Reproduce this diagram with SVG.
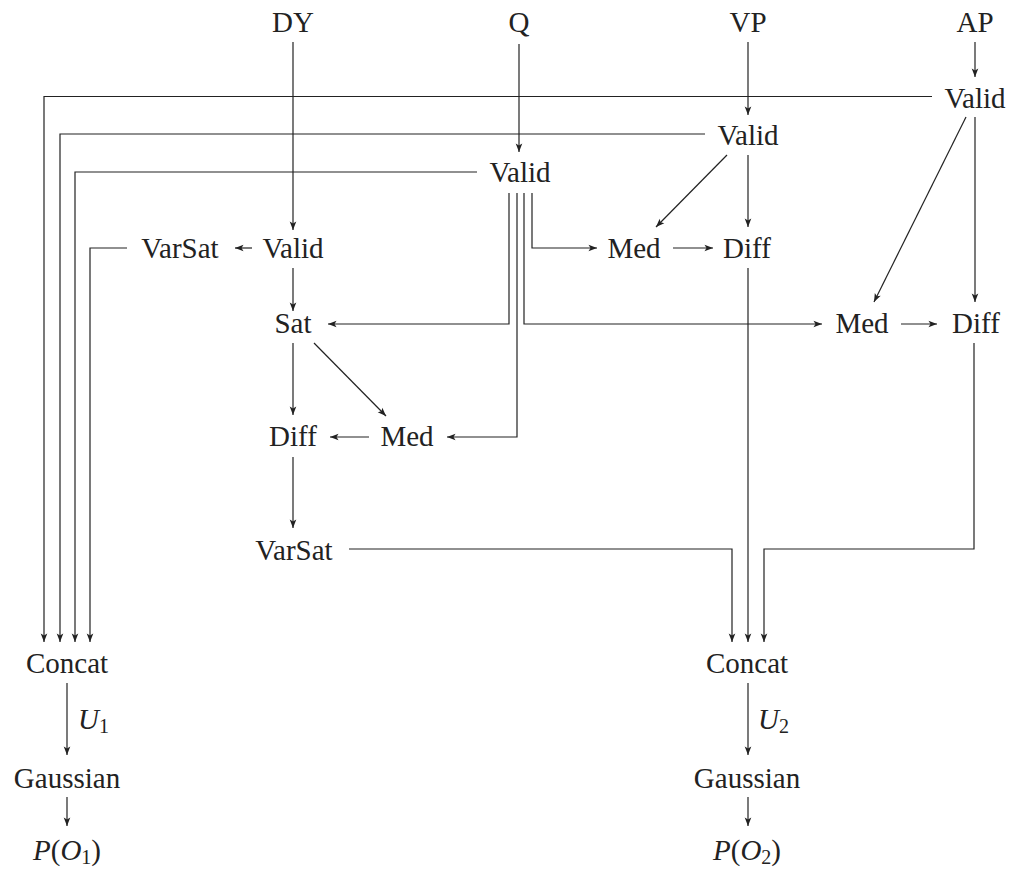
<svg xmlns="http://www.w3.org/2000/svg" width="1009" height="869" viewBox="0 0 1009 869">
<defs>
<marker id="ah" viewBox="-9 -4 10 8" refX="0" refY="0" markerWidth="10" markerHeight="8" markerUnits="userSpaceOnUse" orient="auto">
<path d="M0,0 L-8.5,-3.3 L-6.5,0 L-8.5,3.3 Z" fill="#222"/>
</marker>
<style>
text{font-family:"Liberation Serif","Times New Roman",serif;font-size:29px;fill:#222;text-anchor:middle}
text.lbl{text-anchor:start}
.m{font-style:italic}
.s{font-size:20px}
#connectors path{fill:none;stroke:#222;stroke-width:1.2;marker-end:url(#ah)}
</style>
</defs>
<rect width="1009" height="869" fill="#fff"/>
<g id="connectors">
<path d="M293,42 V230"/>
<path d="M519,44 V152"/>
<path d="M748,42 V115"/>
<path d="M975,42 V77"/>
<path d="M932,96.5 H44 V642"/>
<path d="M705,134 H60 V642"/>
<path d="M477,172 H75 V642"/>
<path d="M127,248 H90 V642"/>
<path d="M252,248 H235"/>
<path d="M293,268 V311"/>
<path d="M509,193 V324 H328"/>
<path d="M517,193 V437 H447"/>
<path d="M524,193 V324 H822"/>
<path d="M532,193 V248 H597"/>
<path d="M673,248 H713"/>
<path d="M727,155 L656,227"/>
<path d="M748,155 V227"/>
<path d="M748,268 V642"/>
<path d="M966,117 L874,302"/>
<path d="M975,117 V302"/>
<path d="M901,324 H937"/>
<path d="M974,343 V549 H764 V642"/>
<path d="M349,549 H732 V642"/>
<path d="M293,343 V415"/>
<path d="M314,343 L386,416"/>
<path d="M369,437 H330"/>
<path d="M293,457 V528"/>
<path d="M67,683 V755"/>
<path d="M67,797 V826"/>
<path d="M748,683 V755"/>
<path d="M748,797 V826"/>
</g>
<g id="n-dy"><text x="293" y="32">DY</text></g>
<g id="n-q"><text x="519" y="32">Q</text></g>
<g id="n-vp"><text x="748" y="32">VP</text></g>
<g id="n-ap"><text x="975" y="32">AP</text></g>
<g id="n-valid-ap"><text x="975" y="108">Valid</text></g>
<g id="n-valid-vp"><text x="748" y="145">Valid</text></g>
<g id="n-valid-q"><text x="520" y="182">Valid</text></g>
<g id="n-varsat1"><text x="180" y="258">VarSat</text></g>
<g id="n-valid-dy"><text x="293" y="258">Valid</text></g>
<g id="n-med1"><text x="634" y="258">Med</text></g>
<g id="n-diff1"><text x="747" y="258">Diff</text></g>
<g id="n-sat"><text x="293" y="333">Sat</text></g>
<g id="n-med2"><text x="862" y="333">Med</text></g>
<g id="n-diff2"><text x="976" y="333">Diff</text></g>
<g id="n-diff3"><text x="293" y="446">Diff</text></g>
<g id="n-med3"><text x="407" y="446">Med</text></g>
<g id="n-varsat2"><text x="294" y="560">VarSat</text></g>
<g id="n-concat1"><text x="67" y="673">Concat</text></g>
<g id="n-concat2"><text x="747" y="673">Concat</text></g>
<g id="n-gauss1"><text x="67" y="788">Gaussian</text></g>
<g id="n-gauss2"><text x="747" y="788">Gaussian</text></g>
<g id="n-p1"><text x="67" y="860"><tspan class="m">P</tspan>(<tspan class="m">O</tspan><tspan class="s" dy="4">1</tspan><tspan dy="-4">)</tspan></text></g>
<g id="n-p2"><text x="747" y="860"><tspan class="m">P</tspan>(<tspan class="m">O</tspan><tspan class="s" dy="4">2</tspan><tspan dy="-4">)</tspan></text></g>
<g id="l-u1"><text class="lbl" x="78" y="729"><tspan class="m">U</tspan><tspan class="s" dy="4">1</tspan></text></g>
<g id="l-u2"><text class="lbl" x="758" y="729"><tspan class="m">U</tspan><tspan class="s" dy="4">2</tspan></text></g>
</svg>
